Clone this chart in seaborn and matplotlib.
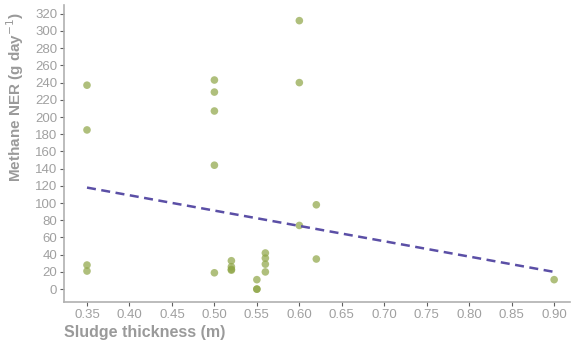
import matplotlib
matplotlib.use("Agg")
import matplotlib.pyplot as plt
import seaborn as sns
import pandas as pd

# data
thickness = [0.35, 0.35, 0.35, 0.35,
             0.50, 0.50, 0.50, 0.50, 0.50,
             0.52, 0.52, 0.52, 0.52,
             0.55, 0.55, 0.55,
             0.56, 0.56, 0.56, 0.56,
             0.60, 0.60, 0.60,
             0.62, 0.62,
             0.90]
methane_ner = [237, 185, 28, 21,
               243, 229, 207, 144, 19,
               33, 26, 23, 22,
               11, 0, 0,
               42, 36, 29, 20,
               312, 240, 74,
               98, 35,
               11]
trend_x = [0.35, 0.90]
trend_y = [118, 20]

df = pd.DataFrame({"thickness": thickness, "ner": methane_ner})
trend = pd.DataFrame({"thickness": trend_x, "ner": trend_y})

sns.set_theme(style="ticks")
plt.rcParams["font.family"] = ["Liberation Sans", "DejaVu Sans"]
grey = "#9a9a9a"

fig = plt.figure(figsize=(5.72, 3.44), dpi=100)
ax = fig.add_axes([0.112, 0.122, 0.885, 0.863])

sns.scatterplot(data=df, x="thickness", y="ner", color="#8ea545", alpha=0.7,
                s=30, edgecolor="none", ax=ax)
sns.lineplot(data=trend, x="thickness", y="ner", color="#5b4fa6",
             linestyle=(0, (3.6, 2.2)), linewidth=1.8, ax=ax)

ax.set_xlim(0.323, 0.919)
ax.set_ylim(-15, 330)
ax.set_xticks([0.35 + 0.05 * i for i in range(12)])
ax.set_xticklabels([f"{0.35 + 0.05 * i:.2f}" for i in range(12)])
ax.set_yticks(range(0, 321, 20))

ax.set_xlabel("Sludge thickness (m)", fontsize=11.5, fontweight="bold", color=grey, loc="left")
ax.set_ylabel("Methane NER (g day$^{-1}$)", fontsize=11, fontweight="bold", color=grey)
ax.xaxis.set_label_coords(0.0, -0.078)
ax.yaxis.set_label_coords(-0.075, 0.69)

ax.tick_params(axis="both", colors="#606060", labelcolor="#a0a0a0", labelsize=9.5,
               length=3, width=0.8, pad=2)
for side in ["left", "bottom"]:
    ax.spines[side].set_color("#b0b0b0")
    ax.spines[side].set_linewidth(1.2)
sns.despine(ax=ax)

plt.savefig("out.png", dpi=100)
